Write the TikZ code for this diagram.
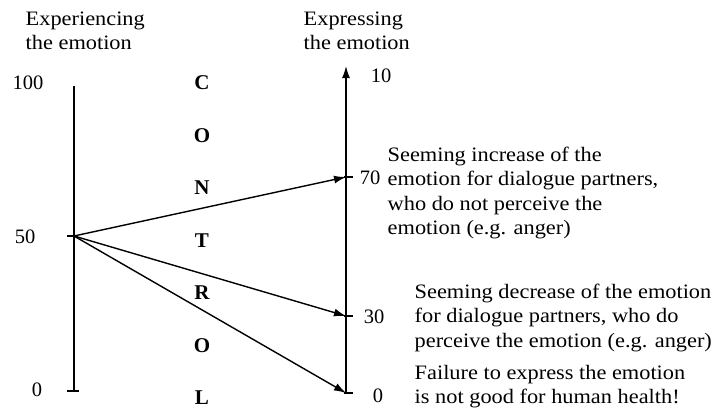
\documentclass[tikz,border=0pt]{standalone}
\usepackage{fontspec}
\setmainfont{Liberation Serif}
\usetikzlibrary{arrows.meta}
\newcommand{\wtext}[1]{\scalebox{1.09}[1]{\begin{tabular}[t]{@{}l@{}}#1\end{tabular}}}
\begin{document}
\begin{tikzpicture}[x=1pt,y=-1pt,
      line width=1.4pt,
      num/.style={font=\fontsize{20.5}{24.5}\selectfont, inner sep=0pt},
      txt/.style={num, anchor=base west},
      let/.style={font=\fontsize{21}{23}\selectfont\bfseries, inner sep=0pt},
      arr/.style={-{Latex[length=12pt,width=8pt]}}]
      \useasboundingbox (0,0) rectangle (720,418);
      % axes
      \coordinate (Ltop) at (74,86);
      \coordinate (Lmid) at (74,236);
      \coordinate (Lbot) at (74,391);
      \coordinate (Rbot) at (346,393);
      \coordinate (Rtop) at (346,66);
      \coordinate (R70) at (346,177);
      \coordinate (R30) at (346,316);
      \draw (Ltop) -- (Lbot);
      \draw[arr] (Rbot) -- (Rtop);
      \draw ([xshift=-7pt]Lmid) -- ([xshift=4pt]Lmid);
      \draw ([xshift=-7pt]Lbot) -- ([xshift=5pt]Lbot);
      \draw ([xshift=-2pt]R70) -- ([xshift=7pt]R70);
      \draw ([xshift=-2pt]R30) -- ([xshift=7pt]R30);
      \draw ([xshift=-2pt]Rbot) -- ([xshift=7pt]Rbot);
      % arrows
      \draw[arr] (Lmid) -- (R70);
      \draw[arr] (Lmid) -- (R30);
      \draw[arr] (Lmid) -- (Rbot);
      % scale labels
      \node[num] (n100) at (28,83) {100};
      \node[num] (n50) at (25,237) {50};
      \node[num] (n0) at (37,390) {0};
      \node[num] (m10) at (381,76) {10};
      \node[num] (m70) at (370,178) {70};
      \node[num] (m30) at (374,317) {30};
      \node[num] (m0) at (378,396) {0};
      % headers
      \node[txt] (exp) at (25,25) {\wtext{Experiencing\\the emotion}};
      \node[txt] (expr) at (303,25) {\wtext{Expressing\\the emotion}};
      % CONTROL
      \foreach \c [count=\i] in {C,O,N,T,R,O,L}
        \node[let] (c\i) at (202,{83+52.5*(\i-1)}) {\c};
      % comments, 2nd line next to the scale value
      \node[txt] (up) at (387,161) {\wtext{Seeming increase of the\\emotion for dialogue partners,\\who do not perceive the\\emotion (e.g. anger)}};
      \node[txt] (down) at (414,298) {\wtext{Seeming decrease of the emotion\\for dialogue partners, who do\\perceive the emotion (e.g. anger)}};
      \node[txt] (fail) at (414,379) {\wtext{Failure to express the emotion\\is not good for human health!}};
    \end{tikzpicture}
\end{document}
